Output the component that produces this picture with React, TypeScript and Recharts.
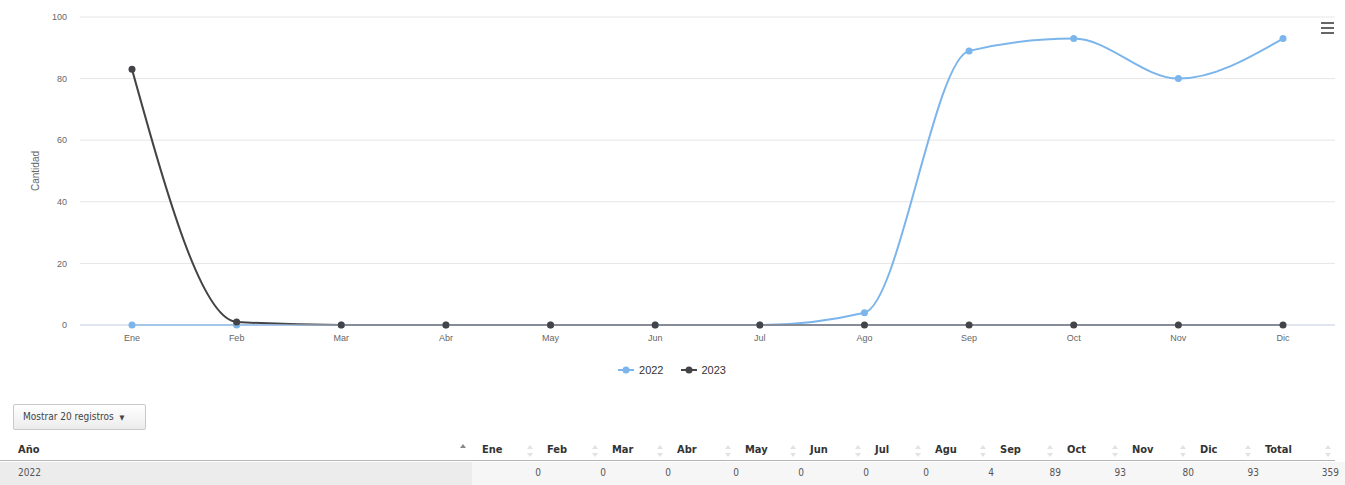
import { LineChart, Line, XAxis, YAxis, CartesianGrid, Legend } from 'recharts';

const months = ['Ene', 'Feb', 'Mar', 'Abr', 'May', 'Jun', 'Jul', 'Ago', 'Sep', 'Oct', 'Nov', 'Dic'];
const values2022 = [0, 0, 0, 0, 0, 0, 0, 4, 89, 93, 80, 93];
const values2023 = [83, 1, 0, 0, 0, 0, 0, 0, 0, 0, 0, 0];
const yTicks = [0, 20, 40, 60, 80, 100];
const tableHeaders = ['Ene', 'Feb', 'Mar', 'Abr', 'May', 'Jun', 'Jul', 'Agu', 'Sep', 'Oct', 'Nov', 'Dic', 'Total'];

const COLOR_2022 = '#7cb5ec';
const COLOR_2023 = '#434348';

const chartData = months.map((m, i) => ({ month: m, y2022: values2022[i], y2023: values2023[i] }));

// only the first row fits above the fold
const tableRows = [
  { year: '2022', values: values2022 },
];

// left edges of the table columns (Año, then months, then Total)
const colEdges = [0, 472, 537, 602, 667, 735, 800, 865, 925, 990, 1057, 1122, 1190, 1255, 1335];

const labelFont = "'Liberation Sans', Arial, sans-serif";
const tableFont = "'Liberation Sans Narrow', 'DejaVu Sans Condensed', 'Liberation Sans', sans-serif";

function LegendContent() {
  const items = [
    { name: '2022', color: COLOR_2022 },
    { name: '2023', color: COLOR_2023 },
  ];
  return (
    <div style={{ display: 'flex', justifyContent: 'center', paddingTop: 19, gap: 16, fontFamily: labelFont, marginLeft: 8 }}>
      {items.map(it => (
        <div key={it.name} style={{ display: 'flex', alignItems: 'center' }}>
          <svg width={18} height={10}>
            <line x1={1} y1={5} x2={17} y2={5} stroke={it.color} strokeWidth={2} />
            <circle cx={9} cy={5} r={3.5} fill={it.color} />
          </svg>
          <span style={{ fontSize: 11, color: '#333', marginLeft: 4 }}>{it.name}</span>
        </div>
      ))}
    </div>
  );
}

function SortIcon({ active }: { active?: boolean }) {
  if (active) {
    return (
      <svg width={6} height={10} style={{ position: 'absolute', right: 6, top: 4 }}>
        <path d="M0 4 L3 0 L6 4 Z" fill="#888" />
      </svg>
    );
  }
  return (
    <svg width={6} height={12} style={{ position: 'absolute', right: 4, top: 5 }}>
      <path d="M0 4 L3 0 L6 4 Z" fill="#e2e2e2" />
      <path d="M0 8 L3 12 L6 8 Z" fill="#e2e2e2" />
    </svg>
  );
}

function MenuIcon() {
  return (
    <svg width={14} height={12} style={{ position: 'absolute', left: 1321, top: 22 }}>
      <rect x={0} y={0} width={13} height={2} fill="#666" />
      <rect x={0} y={5} width={13} height={2} fill="#666" />
      <rect x={0} y={10} width={13} height={2} fill="#666" />
    </svg>
  );
}

function DataTable() {
  const headers = ['Año', ...tableHeaders];
  return (
    <div style={{ position: 'absolute', left: 0, top: 0, width: 1345, fontFamily: tableFont }}>
      <div
        style={{
          position: 'absolute', left: 13, top: 404, width: 133, height: 26, boxSizing: 'border-box',
          border: '1px solid #c8c8c8', borderRadius: 2,
          background: 'linear-gradient(#ffffff, #ececec)', fontSize: 10, color: '#444',
          lineHeight: '24px', paddingLeft: 9,
        }}
      >
        Mostrar 20 registros <span style={{ fontSize: 7, marginLeft: 3 }}>▼</span>
      </div>
      {headers.map((h, i) => (
        <div
          key={h}
          style={{
            position: 'absolute', left: colEdges[i], top: 440, width: colEdges[i + 1] - colEdges[i], height: 21,
            boxSizing: 'border-box', borderBottom: '1px solid #b5b5b5', fontSize: 11, fontWeight: 'bold',
            color: '#333', lineHeight: '20px', paddingLeft: i === 0 ? 18 : 10,
          }}
        >
          {h}
          <SortIcon active={i === 0} />
        </div>
      ))}
      {tableRows.map((row, r) => {
        const total = row.values.reduce((a, b) => a + b, 0);
        const cells = [...row.values, total];
        const top = 462 + r * 23;
        return (
          <div key={row.year}>
            <div
              style={{
                position: 'absolute', left: 0, top, width: colEdges[1], height: 23, background: '#ececec',
                fontSize: 10, color: '#555', lineHeight: '22px', paddingLeft: 18, boxSizing: 'border-box',
              }}
            >
              {row.year}
            </div>
            <div style={{ position: 'absolute', left: colEdges[1], top, width: 1345 - colEdges[1], height: 23, background: '#f6f6f6' }} />
            {cells.map((v, i) => (
              <div
                key={i}
                style={{
                  position: 'absolute', left: colEdges[i + 1], top, width: colEdges[i + 2] - colEdges[i + 1] + 4,
                  height: 23, textAlign: 'right', fontSize: 10, color: '#555', lineHeight: '22px',
                }}
              >
                {v}
              </div>
            ))}
          </div>
        );
      })}
    </div>
  );
}

export default function App() {
  const tick = { fill: '#666', fontSize: 9, fontFamily: labelFont };
  return (
    <div style={{ position: 'absolute', left: 0, top: 0, width: 1345, height: 485, overflow: 'hidden', background: '#fff' }}>
      <LineChart width={1345} height={385} data={chartData} margin={{ top: 17, right: 10, left: 0, bottom: 0 }}>
        <CartesianGrid vertical={false} stroke="#e6e6e6" />
        <XAxis
          dataKey="month"
          stroke="#ccd6eb"
          tick={tick}
          tickLine={false}
          tickMargin={4}
          height={20}
          interval={0}
          padding={{ left: 52, right: 52 }}
        />
        <YAxis
          domain={[0, 100]}
          ticks={yTicks}
          tick={tick}
          axisLine={false}
          tickLine={false}
          tickMargin={7}
          width={80}
          label={{ value: 'Cantidad', angle: -90, position: 'center', dx: -5, style: { fill: '#666', fontSize: 10, fontFamily: labelFont } }}
        />
        <Legend verticalAlign="bottom" height={40} content={<LegendContent />} />
        <Line
          type="monotone"
          dataKey="y2022"
          name="2022"
          stroke={COLOR_2022}
          strokeWidth={2}
          dot={{ r: 3.5, fill: COLOR_2022, stroke: 'none' }}
          isAnimationActive={false}
        />
        <Line
          type="monotone"
          dataKey="y2023"
          name="2023"
          stroke={COLOR_2023}
          strokeWidth={2}
          dot={{ r: 3.5, fill: COLOR_2023, stroke: 'none' }}
          isAnimationActive={false}
        />
      </LineChart>
      <MenuIcon />
      <DataTable />
    </div>
  );
}
